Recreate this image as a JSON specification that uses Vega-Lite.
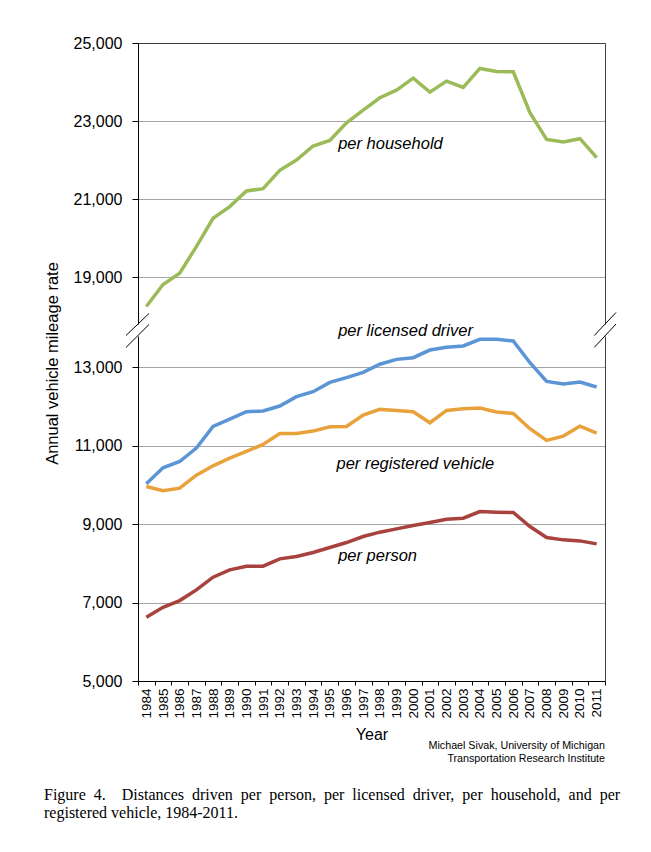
{
  "$schema": "https://vega.github.io/schema/vega-lite/v6.json",
  "description": "Annual vehicle mileage rate per person, licensed driver, household and registered vehicle, 1984-2011, with a broken y axis.",
  "background": "white",
  "padding": {"left": 43, "top": 35, "right": 5, "bottom": 5},
  "datasets": {
    "mileage": [
      {"year": 1984, "series": "per household", "value": 18248},
      {"year": 1985, "series": "per household", "value": 18811},
      {"year": 1986, "series": "per household", "value": 19102},
      {"year": 1987, "series": "per household", "value": 19784},
      {"year": 1988, "series": "per household", "value": 20509},
      {"year": 1989, "series": "per household", "value": 20807},
      {"year": 1990, "series": "per household", "value": 21209},
      {"year": 1991, "series": "per household", "value": 21268},
      {"year": 1992, "series": "per household", "value": 21737},
      {"year": 1993, "series": "per household", "value": 22002},
      {"year": 1994, "series": "per household", "value": 22360},
      {"year": 1995, "series": "per household", "value": 22505},
      {"year": 1996, "series": "per household", "value": 22957},
      {"year": 1997, "series": "per household", "value": 23281},
      {"year": 1998, "series": "per household", "value": 23597},
      {"year": 1999, "series": "per household", "value": 23793},
      {"year": 2000, "series": "per household", "value": 24100},
      {"year": 2001, "series": "per household", "value": 23742},
      {"year": 2002, "series": "per household", "value": 24024},
      {"year": 2003, "series": "per household", "value": 23862},
      {"year": 2004, "series": "per household", "value": 24348},
      {"year": 2005, "series": "per household", "value": 24271},
      {"year": 2006, "series": "per household", "value": 24262},
      {"year": 2007, "series": "per household", "value": 23212},
      {"year": 2008, "series": "per household", "value": 22531},
      {"year": 2009, "series": "per household", "value": 22463},
      {"year": 2010, "series": "per household", "value": 22548},
      {"year": 2011, "series": "per household", "value": 22061},
      {"year": 1984, "series": "per licensed driver", "value": 10029},
      {"year": 1985, "series": "per licensed driver", "value": 10438},
      {"year": 1986, "series": "per licensed driver", "value": 10599},
      {"year": 1987, "series": "per licensed driver", "value": 10941},
      {"year": 1988, "series": "per licensed driver", "value": 11493},
      {"year": 1989, "series": "per licensed driver", "value": 11682},
      {"year": 1990, "series": "per licensed driver", "value": 11868},
      {"year": 1991, "series": "per licensed driver", "value": 11886},
      {"year": 1992, "series": "per licensed driver", "value": 12014},
      {"year": 1993, "series": "per licensed driver", "value": 12252},
      {"year": 1994, "series": "per licensed driver", "value": 12379},
      {"year": 1995, "series": "per licensed driver", "value": 12617},
      {"year": 1996, "series": "per licensed driver", "value": 12737},
      {"year": 1997, "series": "per licensed driver", "value": 12872},
      {"year": 1998, "series": "per licensed driver", "value": 13080},
      {"year": 1999, "series": "per licensed driver", "value": 13204},
      {"year": 2000, "series": "per licensed driver", "value": 13247},
      {"year": 2001, "series": "per licensed driver", "value": 13442},
      {"year": 2002, "series": "per licensed driver", "value": 13511},
      {"year": 2003, "series": "per licensed driver", "value": 13545},
      {"year": 2004, "series": "per licensed driver", "value": 13715},
      {"year": 2005, "series": "per licensed driver", "value": 13715},
      {"year": 2006, "series": "per licensed driver", "value": 13672},
      {"year": 2007, "series": "per licensed driver", "value": 13119},
      {"year": 2008, "series": "per licensed driver", "value": 12642},
      {"year": 2009, "series": "per licensed driver", "value": 12574},
      {"year": 2010, "series": "per licensed driver", "value": 12625},
      {"year": 2011, "series": "per licensed driver", "value": 12498},
      {"year": 1984, "series": "per registered vehicle", "value": 9961},
      {"year": 1985, "series": "per registered vehicle", "value": 9851},
      {"year": 1986, "series": "per registered vehicle", "value": 9919},
      {"year": 1987, "series": "per registered vehicle", "value": 10251},
      {"year": 1988, "series": "per registered vehicle", "value": 10489},
      {"year": 1989, "series": "per registered vehicle", "value": 10685},
      {"year": 1990, "series": "per registered vehicle", "value": 10855},
      {"year": 1991, "series": "per registered vehicle", "value": 11034},
      {"year": 1992, "series": "per registered vehicle", "value": 11315},
      {"year": 1993, "series": "per registered vehicle", "value": 11315},
      {"year": 1994, "series": "per registered vehicle", "value": 11375},
      {"year": 1995, "series": "per registered vehicle", "value": 11485},
      {"year": 1996, "series": "per registered vehicle", "value": 11494},
      {"year": 1997, "series": "per registered vehicle", "value": 11783},
      {"year": 1998, "series": "per registered vehicle", "value": 11928},
      {"year": 1999, "series": "per registered vehicle", "value": 11902},
      {"year": 2000, "series": "per registered vehicle", "value": 11868},
      {"year": 2001, "series": "per registered vehicle", "value": 11587},
      {"year": 2002, "series": "per registered vehicle", "value": 11902},
      {"year": 2003, "series": "per registered vehicle", "value": 11945},
      {"year": 2004, "series": "per registered vehicle", "value": 11962},
      {"year": 2005, "series": "per registered vehicle", "value": 11860},
      {"year": 2006, "series": "per registered vehicle", "value": 11826},
      {"year": 2007, "series": "per registered vehicle", "value": 11434},
      {"year": 2008, "series": "per registered vehicle", "value": 11136},
      {"year": 2009, "series": "per registered vehicle", "value": 11247},
      {"year": 2010, "series": "per registered vehicle", "value": 11502},
      {"year": 2011, "series": "per registered vehicle", "value": 11323},
      {"year": 1984, "series": "per person", "value": 6626},
      {"year": 1985, "series": "per person", "value": 6881},
      {"year": 1986, "series": "per person", "value": 7051},
      {"year": 1987, "series": "per person", "value": 7324},
      {"year": 1988, "series": "per person", "value": 7647},
      {"year": 1989, "series": "per person", "value": 7834},
      {"year": 1990, "series": "per person", "value": 7928},
      {"year": 1991, "series": "per person", "value": 7928},
      {"year": 1992, "series": "per person", "value": 8115},
      {"year": 1993, "series": "per person", "value": 8175},
      {"year": 1994, "series": "per person", "value": 8277},
      {"year": 1995, "series": "per person", "value": 8404},
      {"year": 1996, "series": "per person", "value": 8532},
      {"year": 1997, "series": "per person", "value": 8685},
      {"year": 1998, "series": "per person", "value": 8796},
      {"year": 1999, "series": "per person", "value": 8881},
      {"year": 2000, "series": "per person", "value": 8966},
      {"year": 2001, "series": "per person", "value": 9043},
      {"year": 2002, "series": "per person", "value": 9128},
      {"year": 2003, "series": "per person", "value": 9153},
      {"year": 2004, "series": "per person", "value": 9323},
      {"year": 2005, "series": "per person", "value": 9306},
      {"year": 2006, "series": "per person", "value": 9298},
      {"year": 2007, "series": "per person", "value": 8940},
      {"year": 2008, "series": "per person", "value": 8660},
      {"year": 2009, "series": "per person", "value": 8600},
      {"year": 2010, "series": "per person", "value": 8574},
      {"year": 2011, "series": "per person", "value": 8498}
    ],
    "labels": [
      {"series": "per household", "year": 1995.5, "value": 22411},
      {"series": "per licensed driver", "year": 1995.5, "value": 13940},
      {"series": "per registered vehicle", "year": 1995.4, "value": 10523},
      {"series": "per person", "year": 1995.5, "value": 8191}
    ],
    "breaks": [
      {"side": "left", "year": 1982.78, "year2": 1984.16, "value": 13813, "value2": 14374},
      {"side": "left", "year": 1982.78, "year2": 1984.16, "value": 13507, "value2": 14093},
      {"side": "right", "year": 2010.86, "year2": 2012.16, "value": 13813, "value2": 14400},
      {"side": "right", "year": 2010.86, "year2": 2012.16, "value": 13510, "value2": 14105}
    ]
  },
  "title": {
    "text": [
      "Figure\u00a0 4.\u00a0\u00a0\u00a0 Distances\u00a0 driven\u00a0 per\u00a0 person,\u00a0 per\u00a0 licensed\u00a0 driver,\u00a0 per\u00a0 household,\u00a0 and\u00a0 per",
      "registered vehicle, 1984-2011."
    ],
    "orient": "bottom",
    "anchor": "start",
    "font": "Liberation Serif",
    "fontSize": 16,
    "fontWeight": "normal",
    "lineHeight": 18,
    "color": "black",
    "offset": 23
  },
  "bounds": "flush",
  "spacing": 12,
  "vconcat": [
    {
      "width": 467,
      "height": 281,
      "layer": [
        {
          "data": {"name": "mileage"},
          "transform": [{"filter": "datum.series == 'per household'"}],
          "mark": {"type": "line", "strokeWidth": 3.5},
          "encoding": {
            "x": {
              "field": "year", "type": "quantitative", "title": null,
              "scale": {"domain": [1983.5, 2011.5], "nice": false, "zero": false},
              "axis": {"orient": "top", "labels": false, "ticks": false, "grid": false, "domainColor": "#404040"}
            },
            "y": {
              "field": "value", "type": "quantitative", "title": null,
              "scale": {"domain": [17800, 25000], "nice": false, "zero": false},
              "axis": {"values": [19000, 21000, 23000, 25000], "format": ",d", "grid": true}
            },
            "color": {
              "field": "series", "type": "nominal", "legend": null,
              "scale": {
                "domain": ["per household", "per licensed driver", "per registered vehicle", "per person"],
                "range": ["#9BBB59", "#5B95D5", "#E9A23B", "#A8423E"]
              }
            }
          }
        },
        {
          "data": {"name": "labels"},
          "transform": [{"filter": "datum.series == 'per household'"}],
          "mark": {"type": "text", "align": "left", "baseline": "middle", "fontStyle": "italic", "fontSize": 16.5, "color": "black"},
          "encoding": {
            "x": {
              "field": "year", "type": "quantitative", "title": null,
              "scale": {"domain": [1983.5, 2011.5], "nice": false, "zero": false},
              "axis": {"orient": "top", "labels": false, "ticks": false, "grid": false, "domainColor": "#404040"}
            },
            "y": {
              "field": "value", "type": "quantitative", "title": null,
              "scale": {"domain": [17800, 25000], "nice": false, "zero": false},
              "axis": {"orient": "right", "labels": false, "ticks": false, "grid": false, "domainColor": "#404040"}
            },
            "text": {"field": "series"}
          }
        }
      ],
      "resolve": {"axis": {"y": "independent"}}
    },
    {
      "width": 467,
      "height": 345,
      "title": {
        "text": ["Michael Sivak, University of Michigan", "Transportation Research Institute"],
        "orient": "bottom",
        "anchor": "end",
        "frame": "group",
        "fontSize": 10.7,
        "fontWeight": "normal",
        "lineHeight": 13,
        "color": "black",
        "offset": -1
      },
      "layer": [
        {
          "data": {"name": "mileage"},
          "transform": [{"filter": "datum.series != 'per household'"}],
          "mark": {"type": "line", "strokeWidth": 3.5},
          "encoding": {
            "x": {
              "field": "year", "type": "quantitative", "title": "Year",
              "scale": {"domain": [1983.5, 2011.5], "nice": false, "zero": false},
              "axis": {
                "values": [1983.5, 1984.5, 1985.5, 1986.5, 1987.5, 1988.5, 1989.5, 1990.5, 1991.5, 1992.5, 1993.5, 1994.5, 1995.5, 1996.5, 1997.5, 1998.5, 1999.5, 2000.5, 2001.5, 2002.5, 2003.5, 2004.5, 2005.5, 2006.5, 2007.5, 2008.5, 2009.5, 2010.5, 2011.5],
                "labelExpr": "datum.value > 2011 ? '' : '' + (datum.value + 0.5)",
                "labelOffset": 8.34,
                "labelAngle": -90,
                "labelFontSize": 13.5,
                "labelPadding": 3,
                "labelOverlap": false,
                "labelFlush": false,
                "labelBound": false,
                "tickSize": 4,
                "grid": false,
                "titleFontSize": 16,
                "titlePadding": 8
              }
            },
            "y": {
              "field": "value", "type": "quantitative", "title": "Annual vehicle mileage rate",
              "scale": {"domain": [5000, 13800], "nice": false, "zero": false},
              "axis": {
                "values": [5000, 7000, 9000, 11000, 13000], "format": ",d", "grid": true,
                "titleFontSize": 16.5, "titleX": -81, "titleY": 27, "titleBaseline": "alphabetic"
              }
            },
            "color": {"field": "series", "type": "nominal", "legend": null}
          }
        },
        {
          "data": {"name": "labels"},
          "transform": [{"filter": "datum.series != 'per household'"}],
          "mark": {"type": "text", "align": "left", "baseline": "middle", "fontStyle": "italic", "fontSize": 16.5, "color": "black"},
          "encoding": {
            "x": {
              "field": "year", "type": "quantitative", "title": "Year",
              "scale": {"domain": [1983.5, 2011.5], "nice": false, "zero": false},
              "axis": {
                "values": [1983.5, 1984.5, 1985.5, 1986.5, 1987.5, 1988.5, 1989.5, 1990.5, 1991.5, 1992.5, 1993.5, 1994.5, 1995.5, 1996.5, 1997.5, 1998.5, 1999.5, 2000.5, 2001.5, 2002.5, 2003.5, 2004.5, 2005.5, 2006.5, 2007.5, 2008.5, 2009.5, 2010.5, 2011.5],
                "labelExpr": "datum.value > 2011 ? '' : '' + (datum.value + 0.5)",
                "labelOffset": 8.34,
                "labelAngle": -90,
                "labelFontSize": 13.5,
                "labelPadding": 3,
                "labelOverlap": false,
                "labelFlush": false,
                "labelBound": false,
                "tickSize": 4,
                "grid": false,
                "titleFontSize": 16,
                "titlePadding": 8
              }
            },
            "y": {
              "field": "value", "type": "quantitative", "title": null,
              "scale": {"domain": [5000, 13800], "nice": false, "zero": false},
              "axis": {"orient": "right", "labels": false, "ticks": false, "grid": false, "domainColor": "#404040"}
            },
            "text": {"field": "series"}
          }
        },
        {
          "data": {"name": "breaks"},
          "mark": {"type": "rule", "color": "black", "strokeWidth": 1},
          "encoding": {
            "x": {
              "field": "year", "type": "quantitative", "title": "Year",
              "scale": {"domain": [1983.5, 2011.5], "nice": false, "zero": false},
              "axis": {
                "values": [1983.5, 1984.5, 1985.5, 1986.5, 1987.5, 1988.5, 1989.5, 1990.5, 1991.5, 1992.5, 1993.5, 1994.5, 1995.5, 1996.5, 1997.5, 1998.5, 1999.5, 2000.5, 2001.5, 2002.5, 2003.5, 2004.5, 2005.5, 2006.5, 2007.5, 2008.5, 2009.5, 2010.5, 2011.5],
                "labelExpr": "datum.value > 2011 ? '' : '' + (datum.value + 0.5)",
                "labelOffset": 8.34,
                "labelAngle": -90,
                "labelFontSize": 13.5,
                "labelPadding": 3,
                "labelOverlap": false,
                "labelFlush": false,
                "labelBound": false,
                "tickSize": 4,
                "grid": false,
                "titleFontSize": 16,
                "titlePadding": 8
              }
            },
            "x2": {"field": "year2"},
            "y": {
              "field": "value", "type": "quantitative", "axis": null,
              "scale": {"domain": [5000, 13800], "nice": false, "zero": false}
            },
            "y2": {"field": "value2"}
          }
        }
      ],
      "resolve": {"axis": {"y": "independent"}}
    }
  ],
  "config": {
    "font": "Liberation Sans",
    "view": {"stroke": null},
    "axis": {
      "labelColor": "black",
      "labelFontSize": 16,
      "labelPadding": 10,
      "tickSize": 6,
      "tickColor": "black",
      "domainColor": "black",
      "gridColor": "#A6A6A6",
      "titleColor": "black",
      "titleFontWeight": "normal"
    },
    "axisX": {"grid": false, "labelOverlap": false}
  }
}
